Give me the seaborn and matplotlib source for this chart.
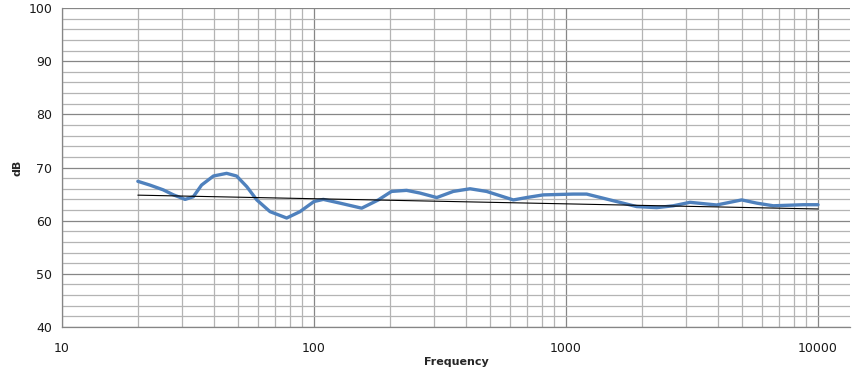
import numpy as np
import pandas as pd
import matplotlib
matplotlib.use("Agg")
import matplotlib.pyplot as plt
import seaborn as sns
from matplotlib.ticker import LogLocator, FixedLocator, NullFormatter

# response curve
freq = [20, 22.3, 25.2, 27.7, 30.8, 33.2, 35.8, 39.9, 45, 49.3, 54.1, 59.3, 66.9,
        77.9, 88, 100, 108.9, 126.8, 154.6, 180, 203, 233, 263, 307, 357, 416,
        484, 618, 698, 813, 1069, 1208, 1496, 1908, 2291, 2667, 3105, 3963,
        4978, 5714, 6646, 8745, 10000]
level = [67.4, 66.7, 65.8, 64.85, 64.0, 64.5, 66.7, 68.4, 68.9, 68.4, 66.4, 63.9,
         61.7, 60.5, 61.7, 63.6, 64.0, 63.3, 62.35, 63.9, 65.5, 65.7, 65.2, 64.35,
         65.5, 66.0, 65.5, 63.9, 64.35, 64.85, 65.0, 65.0, 63.9, 62.65, 62.45,
         62.8, 63.45, 62.95, 63.9, 63.3, 62.8, 63.0, 63.0]

# trendline end points
trend_freq = [20, 10000]
trend_db = [64.8, 62.2]

y_ticks = [40, 50, 60, 70, 80, 90, 100]
x_ticks = [10, 100, 1000, 10000]

df = pd.DataFrame({"Frequency": freq, "dB": level})
trend = pd.DataFrame({"Frequency": trend_freq, "dB": trend_db})

sns.set_style("white")
plt.rcParams['font.family'] = ['DejaVu Sans']

fig = plt.figure(figsize=(8.52, 3.88), dpi=100)
ax = fig.add_axes([62 / 852, 61 / 388, 788 / 852, 319 / 388])

sns.lineplot(data=df, x="Frequency", y="dB", ax=ax, color="#4F81BD", linewidth=2.4)
sns.lineplot(data=trend, x="Frequency", y="dB", ax=ax, color="black", linewidth=0.8)

ax.set_xscale("log")
ax.set_xlim(10, 10 ** (1 + 788 / 252))
ax.set_ylim(40, 100)

ax.xaxis.set_major_locator(FixedLocator(x_ticks))
ax.set_xticklabels([str(t) for t in x_ticks])
ax.xaxis.set_minor_locator(LogLocator(base=10, subs=np.arange(2, 10)))
ax.xaxis.set_minor_formatter(NullFormatter())
ax.yaxis.set_major_locator(FixedLocator(y_ticks))
ax.yaxis.set_minor_locator(FixedLocator(np.arange(40, 101, 2)))

ax.grid(True, which="major", color="#868686", linewidth=0.9)
ax.grid(True, which="minor", color="#b4b4b4", linewidth=0.9)
ax.set_axisbelow(True)

ax.tick_params(axis="both", which="major", length=4, width=0.9, color="#868686",
               labelsize=9, colors="#1a1a1a", pad=3)
ax.tick_params(axis="both", which="minor", length=0)
ax.tick_params(axis="x", pad=7)

for s in ["top", "right"]:
    ax.spines[s].set_visible(False)
for s in ["left", "bottom"]:
    ax.spines[s].set_color("#868686")
    ax.spines[s].set_linewidth(0.9)

ax.set_xlabel("Frequency", fontsize=8, fontweight="bold", labelpad=1)
ax.set_ylabel("dB", fontsize=8, fontweight="bold", labelpad=4)

fig.savefig("out.png", dpi=100)
